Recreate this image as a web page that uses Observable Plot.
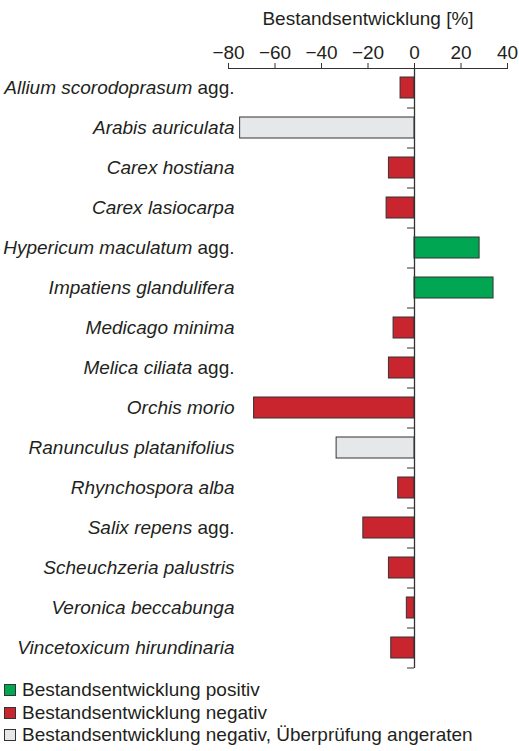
<!DOCTYPE html>
<html>
<head>
<meta charset="utf-8">
<script src="https://cdn.jsdelivr.net/npm/d3@7"></script>
<script src="https://cdn.jsdelivr.net/npm/@observablehq/plot@0.6"></script>
<style>
  body { margin: 0; background: #fff; font-family: "Liberation Sans", Arial, sans-serif; color: #231f20; }
  #legend { margin: 7px 0 0 4px; font-size: 19px; line-height: 22.5px; }
  .item { display: flex; align-items: center; }
  .sw { width: 12px; height: 12px; border: 1px solid #333; margin-right: 6px; box-sizing: border-box; }
</style>
</head>
<body>
<div id="chart"></div>
<div id="legend"></div>
<script>
const species = [
  "Allium scorodoprasum agg.",
  "Arabis auriculata",
  "Carex hostiana",
  "Carex lasiocarpa",
  "Hypericum maculatum agg.",
  "Impatiens glandulifera",
  "Medicago minima",
  "Melica ciliata agg.",
  "Orchis morio",
  "Ranunculus platanifolius",
  "Rhynchospora alba",
  "Salix repens agg.",
  "Scheuchzeria palustris",
  "Veronica beccabunga",
  "Vincetoxicum hirundinaria"
];
const values = [-6, -75, -11, -12, 28, 34, -9, -11, -69, -33.5, -7, -22, -11, -3.3, -10];
const status = ["neg", "check", "neg", "neg", "pos", "pos", "neg", "neg", "neg", "check", "neg", "neg", "neg", "neg", "neg"];
const statusKeys = ["pos", "neg", "check"];
const statusLabels = [
  "Bestandsentwicklung positiv",
  "Bestandsentwicklung negativ",
  "Bestandsentwicklung negativ, Überprüfung angeraten"
];
const statusColors = ["#00a651", "#c9252f", "#e6e7e8"];
const xTicks = [-80, -60, -40, -20, 0, 20, 40];
const axisTitle = "Bestandsentwicklung [%]";

const data = species.map((s, i) => ({species: s, value: values[i], status: status[i]}));

const chart = Plot.plot({
  width: 519,
  height: 672,
  marginLeft: 228,
  marginRight: 12,
  marginTop: 68,
  marginBottom: 4,
  style: {fontFamily: "Liberation Sans, Arial, sans-serif", fontSize: "19px", color: "#231f20", background: "#fff"},
  x: {domain: [-80, 40], ticks: xTicks, axis: null},
  y: {domain: species, paddingInner: 0.47, paddingOuter: 0.235, axis: null},
  color: {domain: statusKeys, range: statusColors},
  marks: [
    Plot.axisX({anchor: "top", ticks: xTicks, tickSize: 6, tickPadding: 4, label: null, stroke: "#333", fontSize: 19}),
    Plot.frame({anchor: "top", stroke: "#333"}),
    Plot.text([axisTitle], {frameAnchor: "top", dy: -50, lineAnchor: "middle", fontSize: 19}),
    Plot.barX(data, {y: "species", x: "value", fill: "status", stroke: "#333", strokeWidth: 1}),
    Plot.ruleX([0], {stroke: "#333", strokeWidth: 1.3}),
    Plot.ruleY(species, {y: d => d, x1: -3, x2: 0, dy: 20, stroke: "#333"}),
    Plot.axisY({tickSize: 0, tickPadding: 0, dx: 6, label: null, fontSize: 19})
  ]
});

// mixed italic / upright species labels
d3.select(chart).selectAll('g[aria-label="y-axis tick label"] text').each(function() {
  const t = this.textContent;
  const m = t.match(/^(.*?)( agg\.)$/);
  const sel = d3.select(this);
  sel.text(null);
  if (m) {
    sel.append("tspan").attr("font-style", "italic").text(m[1]);
    sel.append("tspan").text(m[2]);
  } else {
    sel.append("tspan").attr("font-style", "italic").text(t);
  }
});

document.getElementById("chart").appendChild(chart);

const legend = d3.select("#legend");
statusKeys.forEach((k, i) => {
  const row = legend.append("div").attr("class", "item");
  row.append("div").attr("class", "sw").style("background", statusColors[i]);
  row.append("span").text(statusLabels[i]);
});
</script>
</body>
</html>
